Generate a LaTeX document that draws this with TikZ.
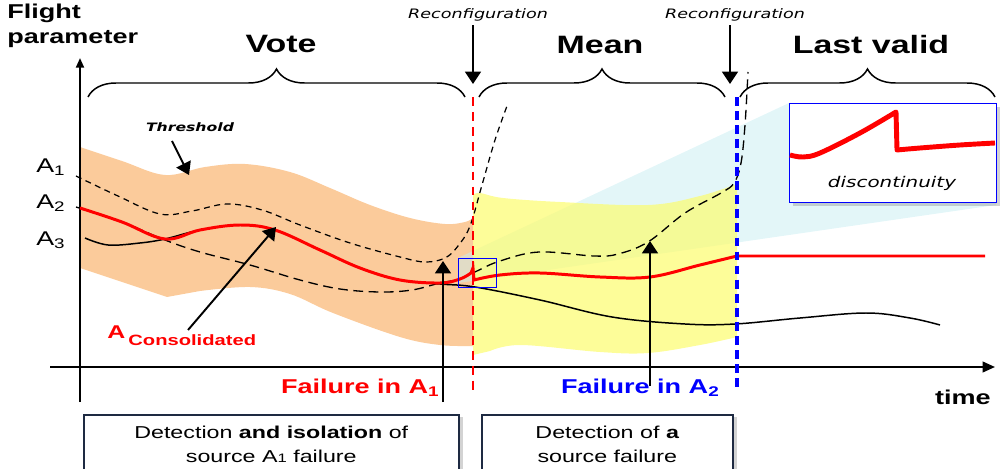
\documentclass[tikz,border=0pt]{standalone}
\usepackage{fontspec}
\setmainfont{Liberation Sans}[FakeStretch=1.35]
\newfontfamily\notefont{DejaVu Sans}[FakeStretch=1.35]
\usetikzlibrary{arrows.meta, decorations.pathreplacing, shadows}

\definecolor{bandorange}{RGB}{251,203,155}
\definecolor{bandyellow}{RGB}{252,252,105}
\definecolor{zoomcyan}{RGB}{200,238,242}
\definecolor{boxnavy}{RGB}{30,42,66}

\begin{document}
\begin{tikzpicture}[
    x=0.02cm, y=-0.02cm,
    every node/.style={inner sep=0pt},
    title/.style={font=\fontsize{14.3}{17}\selectfont\bfseries},
    axislabel/.style={font=\fontsize{11.4}{14.2}\selectfont\bfseries},
    alab/.style={font=\fontsize{11.3}{13}\selectfont, anchor=west},
    note/.style={font=\notefont\fontsize{7.4}{9}\selectfont\itshape},
    failure/.style={font=\fontsize{11.4}{14}\selectfont\bfseries, anchor=east},
    infobox/.style={draw=boxnavy, line width=0.9pt, fill=white, align=center,
                    font=\fontsize{9.8}{13.7}\selectfont, anchor=north west,
                    minimum height=1.2cm,
                    drop shadow={shadow xshift=2.5pt, shadow yshift=-1pt, opacity=0.35}},
    zoombox/.style={draw=blue, line width=0.7pt, fill=white, anchor=north west,
                    drop shadow={shadow xshift=2pt, shadow yshift=-2pt, opacity=0.35}},
    curly/.style={decorate, decoration={brace, amplitude=0.56cm}, line width=0.85pt},
    arrow/.style={-{Triangle[length=7pt, width=9pt]}, line width=1.1pt},
    thresh/.style={line width=0.7pt, dash pattern=on 3.4pt off 2.6pt},
    srcdash/.style={line width=0.75pt, dash pattern=on 5.5pt off 3.2pt},
    srcline/.style={line width=0.85pt},
    consol/.style={red, line width=1.7pt}
]
\useasboundingbox (0,0) rectangle (1000,469);

% key points
\coordinate (sw1-top) at (473,97);
\coordinate (sw1-bot) at (473,392);
\coordinate (sw2-top) at (737,97);
\coordinate (sw2-bot) at (737,392);
\coordinate (zs-nw) at (458,258);
\coordinate (zs-sw) at (458,283);
\coordinate (zd-nw) at (789,103);
\coordinate (zd-ne) at (996,103);
\coordinate (zd-se) at (996,205);

% bands
\fill[bandorange] plot[smooth, tension=0.6] coordinates {(80,147) (122,161) (165,175) (205,167)
    (245,164) (290,172) (330,188) (370,205) (410,218) (445,224) (465,222) (473,218)}
    -- (473,346) -- plot[smooth, tension=0.6] coordinates {(473,346) (440,345) (400,337)
    (333,313) (290,294) (250,287) (200,291)} -- (167,297) -- (80,268) -- cycle;
\fill[zoomcyan, opacity=0.5] (zs-nw) -- (zd-nw) -- (zd-ne) -- (zd-se) -- (zs-sw) -- cycle;
\fill[bandyellow, opacity=0.68] plot[smooth, tension=0.6] coordinates {(473,195) (480,193)
    (503,198) (560,202) (648,205) (700,196) (737,184)}
    -- (737,337) -- plot[smooth, tension=0.6] coordinates {(737,337) (700,345) (648,353)
    (600,352) (521,345) (490,351)} -- (473,355) -- cycle;

% axes
\draw[line width=1.2pt, -{Triangle[length=7pt, width=6pt]}] (50,367) -- (995,367);
\draw[line width=1.2pt, -{Triangle[length=5.5pt, width=4.5pt]}] (80,402) -- (80,58);

% sources
\draw[thresh] plot[smooth, tension=0.6] coordinates {(76,176) (118,196) (160,214) (192,211)
    (227,204) (262,210) (300,225) (350,243) (400,257) (425,262) (445,258) (458,246)
    (470,226) (482,185) (495,140) (507,106)};
\draw[srcdash] plot[smooth, tension=0.6] coordinates {(76,207) (122,222) (165,240) (200,252)
    (250,265) (300,280) (340,289) (380,292) (412,290) (440,283) (460,279) (477,271)
    (500,261) (539,252) (594,256) (618,254) (648,242) (685,213) (721,193) (734,183)
    (741,163) (745,125) (748,72)};
\draw[srcline] plot[smooth, tension=0.6] coordinates {(85,238) (108,245) (140,243) (165,239)
    (200,230) (240,225) (275,230) (320,250) (360,268) (400,280) (440,284) (475,287)
    (540,300) (612,317) (685,324) (735,324) (800,318) (866,313) (910,318) (940,325)};

% consolidated value
\draw[consol] plot[smooth, tension=0.6] coordinates {(80,208) (122,222) (165,239) (200,230)
    (240,225) (275,230) (320,250) (360,268) (400,280) (440,283) (460,279) (471,273)}
    -- (473,268) -- (474,280)
    -- plot[smooth, tension=0.6] coordinates {(474,280) (500,275) (540,273) (600,277)
    (650,277) (700,265) (737,256)} -- (985,256);

% reconfiguration instants
\draw[red, line width=1.6pt, dash pattern=on 5pt off 3.5pt] (sw1-top) -- (sw1-bot);
\draw[blue, line width=2.3pt, dash pattern=on 5pt off 3pt] (sw2-top) -- (sw2-bot);

% zoom on the discontinuity
\node[draw=blue, line width=0.6pt, minimum width=0.76cm, minimum height=0.58cm,
      anchor=north west] (zsrc) at (zs-nw) {};
\node[zoombox, minimum width=4.14cm, minimum height=1.98cm] (zdisc) at (zd-nw) {};
\draw[red, line width=2.8pt, line join=round] plot[smooth, tension=0.6] coordinates {(790,155)
    (803,157) (820,153) (860,133) (896,112)} -- (897,150)
    -- plot[smooth, tension=0.6] coordinates {(897,150) (920,148) (960,145) (995,143)};
\node[note, font=\notefont\fontsize{8.4}{10}\selectfont\itshape] (disctxt) at (892,183) {discontinuity};

% modes
\draw[curly] (88,97) -- (465,97);
\draw[curly] (479,97) -- (725,97);
\draw[curly] (740,97) -- (995,97);
\node[title] (vote) at (281,44) {Vote};
\node[title] (mean) at (600,45) {Mean};
\node[title] (last) at (871,45) {Last valid};

\node[note] (rc1) at (478,15) {Reconfiguration};
\node[note] (rc2) at (735,15) {Reconfiguration};
\coordinate (rc1-tip) at (473,84);
\coordinate (rc2-tip) at (730,84);
\draw[arrow] ([yshift=-2pt]rc1.south -| rc1-tip) -- (rc1-tip);
\draw[arrow] ([yshift=-2pt]rc2.south -| rc2-tip) -- (rc2-tip);

% axis labels
\node[axislabel, anchor=north west, align=left] (ylab) at (7,4) {Flight\\parameter};
\node[axislabel, anchor=east] (xlab) at (991,397) {time};
\node[alab] (a1) at (36,167) {A\textsubscript{1}};
\node[alab] (a2) at (36,203) {A\textsubscript{2}};
\node[alab] (a3) at (36,240) {A\textsubscript{3}};

% threshold and consolidated
\node[note, font=\notefont\fontsize{6.6}{8}\selectfont\bfseries\itshape] (thr) at (190,127) {Threshold};
\coordinate (thr-tail) at (172,141);
\coordinate (thr-tip) at (189,175);
\draw[arrow] (thr-tail) -- (thr-tip);

\node[red, anchor=base west, font=\bfseries] (acons) at (107,338)
    {\fontsize{10.5}{12}\selectfont A\,\raisebox{-4pt}{\fontsize{8.5}{10}\selectfont Consolidated}};
\coordinate (acons-tail) at (188,330);
\coordinate (acons-tip) at (276,227);
\draw[arrow] (acons-tail) -- (acons-tip);

% failures
\node[failure, red] (fail1) at (440,388) {Failure in A\textsubscript{1}};
\node[failure, blue] (fail2) at (720,388) {Failure in A\textsubscript{2}};
\coordinate (fail1-foot) at (443,402);
\coordinate (fail1-tip) at (443,261);
\coordinate (fail2-foot) at (650,386);
\coordinate (fail2-tip) at (650,241);
\draw[arrow] (fail1-foot) -- (fail1-tip);
\draw[arrow] (fail2-foot) -- (fail2-tip);

% detection boxes
\node[infobox, minimum width=7.5cm] (det1) at (83,414)
    {Detection \textbf{and isolation} of\\source A{\fontsize{7}{8}\selectfont 1} failure};
\node[infobox, minimum width=5.02cm] (det2) at (481,414)
    {Detection of \textbf{a}\\source failure};

\end{tikzpicture}
\end{document}
